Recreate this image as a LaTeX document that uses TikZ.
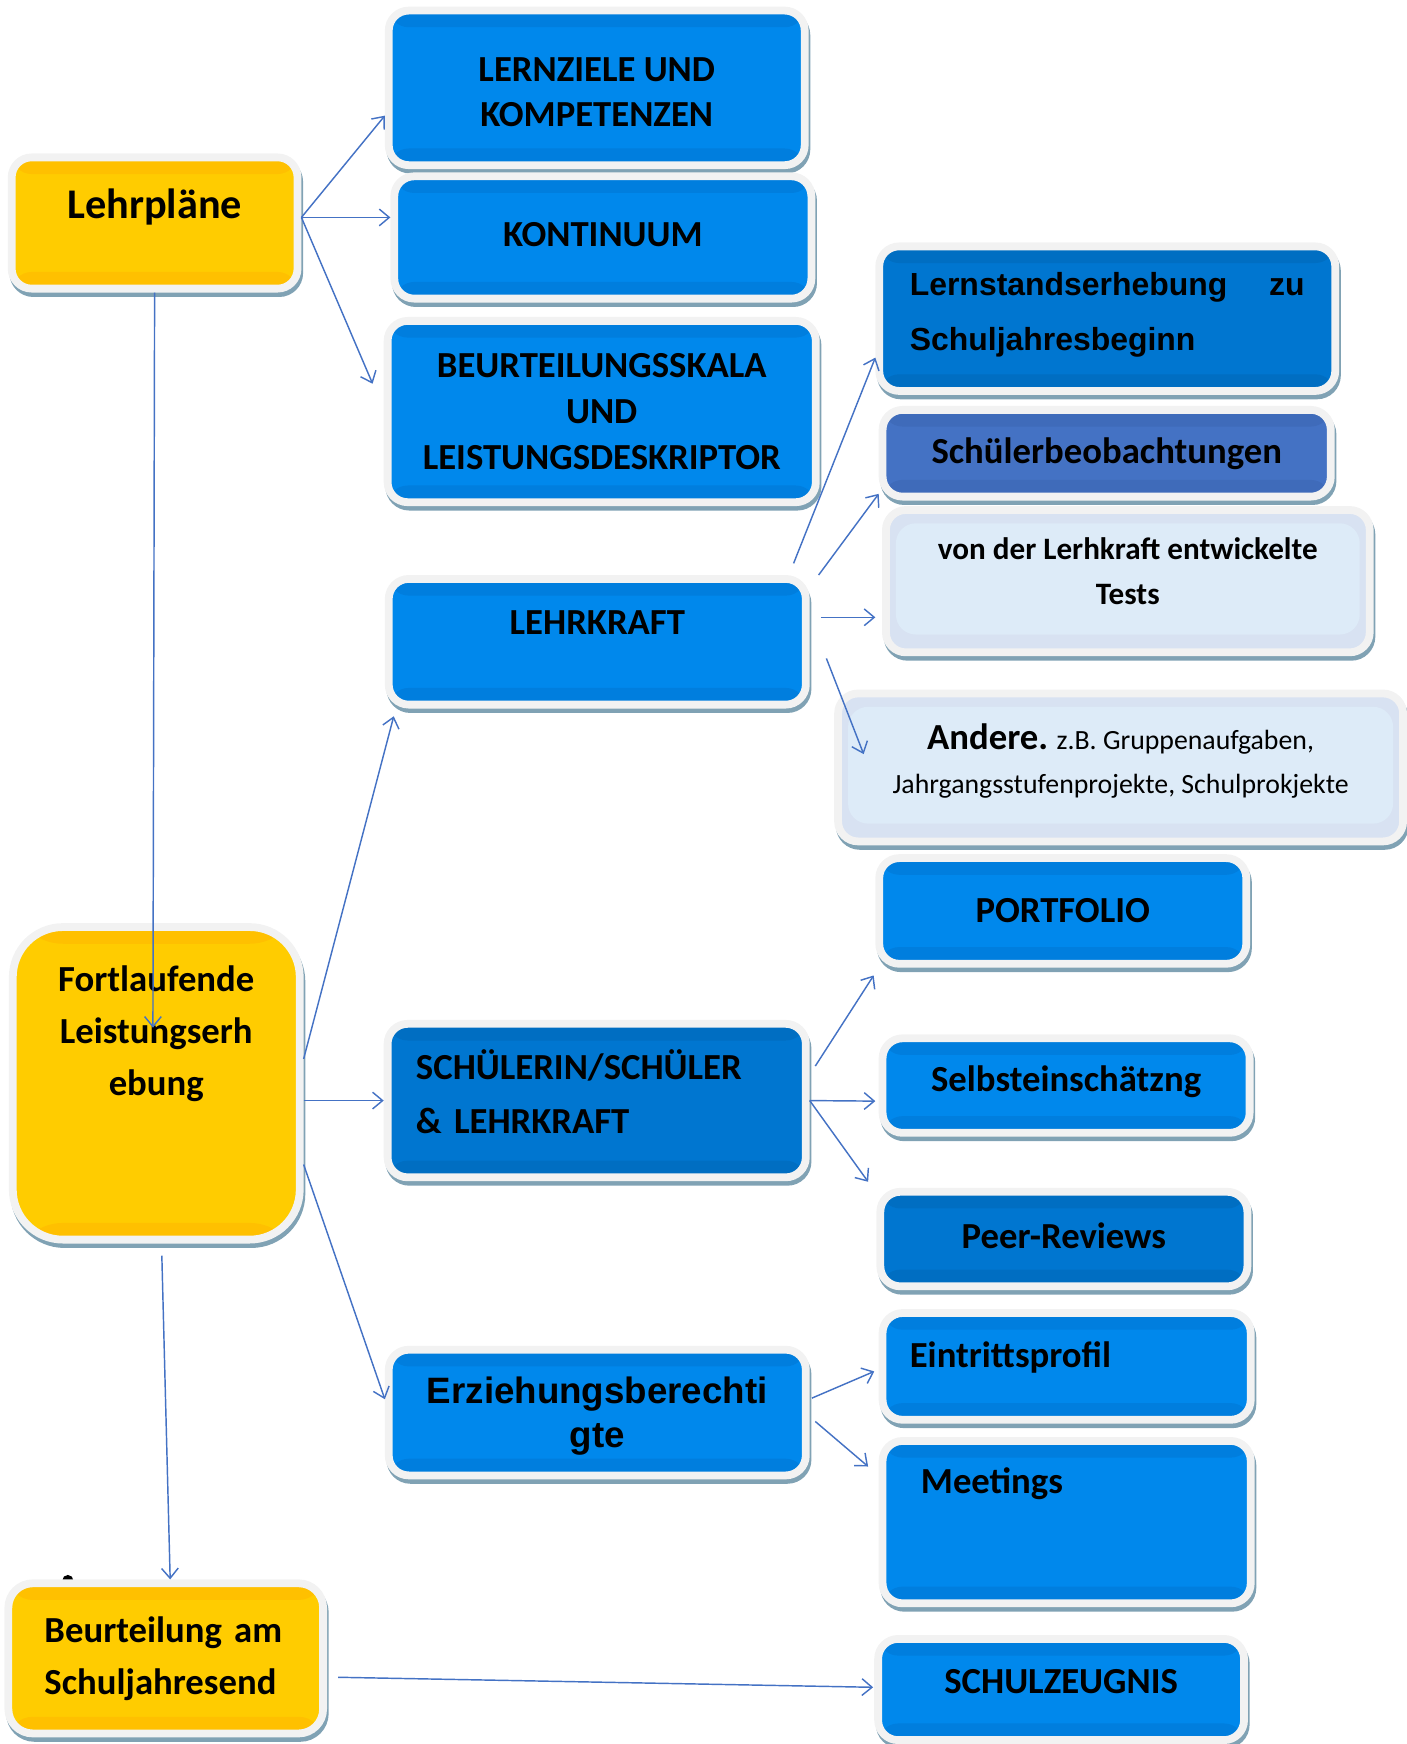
\documentclass[tikz,border=0pt]{standalone}
\usepackage{fontspec}
\setmainfont{Carlito}
\newfontfamily\arialfont{Liberation Sans}
\definecolor{rim}{RGB}{242, 242, 242}
\definecolor{shadowblue}{RGB}{128, 162, 180}
\definecolor{gold}{RGB}{255, 204, 0}
\definecolor{goldband}{RGB}{255, 192, 0}
\definecolor{main}{RGB}{0, 136, 236}
\definecolor{mainband}{RGB}{0, 126, 222}
\definecolor{deep}{RGB}{0, 118, 208}
\definecolor{deepband}{RGB}{0, 110, 194}
\definecolor{slate}{RGB}{68, 114, 196}
\definecolor{slateband}{RGB}{63, 107, 186}
\definecolor{pale}{RGB}{221, 235, 248}
\definecolor{paleband}{RGB}{216, 226, 242}
\definecolor{link}{RGB}{68, 114, 196}
\usetikzlibrary{arrows.meta}

\begin{document}
\begin{tikzpicture}[x=1pt, y=-1pt,
    box/.style={draw=rim, line width=7pt, rounded corners=18pt, inner sep=0pt, align=center,
      font=\bfseries\fontsize{33}{40}\selectfont,
      preaction={fill=shadowblue, draw=shadowblue, line width=7pt, transform canvas={xshift=1.5pt, yshift=-4pt}}},
    bands/.style 2 args={fill=#1, path picture={
      \fill[#2] (path picture bounding box.north west) rectangle ([yshift=-15pt]path picture bounding box.north east);
      \fill[#2] (path picture bounding box.south west) rectangle ([yshift=15pt]path picture bounding box.south east);}},
    goldbox/.style={box, bands={gold}{goldband}},
    mainbox/.style={box, bands={main}{mainband}},
    deepbox/.style={box, bands={deep}{deepband}},
    slatebox/.style={box, bands={slate}{slateband}},
    palebox/.style={box, fill=paleband, path picture={
      \fill[pale] ([shift={(9pt,-12pt)}]path picture bounding box.north west) rectangle ([shift={(-9pt,16pt)}]path picture bounding box.south east);}},
    arr/.style={draw=link, line width=1.3pt, -{Straight Barb[length=9pt, width=15pt]}}]
    \useasboundingbox (0,0) rectangle (1265,1568);

    \node[goldbox, minimum width=257pt, minimum height=118pt, font=\bfseries\fontsize{38}{46}\selectfont, text depth=35pt] (lehrpl) at (139,200.5) {Lehrpläne};
    \node[mainbox, minimum width=374pt, minimum height=139pt, text height=69pt, text depth=0pt] (lernz) at (536.5,79) {LERNZIELE UND\\KOMPETENZEN};
    \node[mainbox, minimum width=375pt, minimum height=110pt, text depth=6pt] (kontin) at (542,213.5) {KONTINUUM};
    \node[mainbox, minimum width=385pt, minimum height=163pt, font=\bfseries\fontsize{33}{41}\selectfont] (beurt) at (541,370) {BEURTEILUNGSSKALA\\UND\\LEISTUNGSDESKRIPTOR};
    \node[deepbox, text width=355pt, inner xsep=27.5pt, minimum height=130pt, align=left, font=\arialfont\bfseries\fontsize{28.7}{50}\selectfont, text depth=63pt] (lernst) at (995.5,286.5) {Lernstandserhebung\hfill zu\\Schuljahresbeginn};
    \node[slatebox, minimum width=403pt, minimum height=78pt] (schbeo) at (995,407.5) {Schülerbeobachtungen};
    \node[palebox, minimum width=435pt, minimum height=128pt, font=\bfseries\fontsize{28}{41}\selectfont, text depth=18pt] (tests) at (1014,522.5) {von der Lerhkraft entwickelte\\Tests};
    \node[mainbox, minimum width=375pt, minimum height=113pt, text depth=34pt] (lehrk) at (537,577) {LEHRKRAFT};
    \node[palebox, minimum width=508pt, minimum height=133pt, font=\fontsize{25}{39}\selectfont, text depth=16pt] (andere) at (1007.5,690) {{\bfseries\fontsize{33}{39}\selectfont Andere.} z.B. Gruppenaufgaben,\\Jahrgangsstufenprojekte, Schulprokjekte};
    \node[mainbox, minimum width=330pt, minimum height=95pt] (portf) at (955.5,819) {PORTFOLIO};
    \node[goldbox, rounded corners=45pt, minimum width=258pt, minimum height=281pt, font=\bfseries\fontsize{33}{47}\selectfont, text depth=95pt] (fortl) at (140.5,974) {Fortlaufende\\Leistungserh\\ebung};
    \node[deepbox, text width=325pt, inner xsep=25.5pt, minimum height=138pt, align=left, font=\bfseries\fontsize{33}{48}\selectfont, text depth=64pt] (schuel) at (536.5,989.5) {SCHÜLERIN/SCHÜLER\\\& LEHRKRAFT};
    \node[mainbox, minimum width=330pt, minimum height=85pt, text depth=13pt] (selbst) at (958.5,976) {Selbsteinschätzng};
    \node[deepbox, minimum width=330pt, minimum height=85pt, text depth=6pt] (peer) at (956.5,1114) {Peer-Reviews};
    \node[mainbox, minimum width=375pt, minimum height=113pt, font=\arialfont\bfseries\fontsize{33}{40}\selectfont, text depth=1pt] (erzieh) at (537,1270) {Erziehungsberechti\\gte};
    \node[mainbox, text width=282pt, inner xsep=24.5pt, minimum height=96pt, align=left, text depth=22pt] (eintr) at (959,1228.5) {Eintrittsprofil};
    \node[mainbox, text width=262pt, inner xsep=34.5pt, minimum height=146pt, align=left, text depth=74pt] (meet) at (959,1368.5) {Meetings};
    \fill (61,1421) circle (5pt);
    \node[goldbox, rounded corners=22pt, text width=218pt, inner xsep=32.5pt, minimum height=135pt, align=left, font=\bfseries\fontsize{33}{47}\selectfont] (beurtsj) at (149,1491) {Beurteilung am\\Schuljahresend};
    \node[mainbox, minimum width=329pt, minimum height=91pt, text depth=14pt] (zeugnis) at (954,1519) {SCHULZEUGNIS};

    \draw[arr] ([yshift=5pt]lehrpl.east) -- ([yshift=-25pt]lernz.west);
    \draw[arr] ([yshift=5pt]lehrpl.east) -- ([yshift=18pt]kontin.west);
    \draw[arr] ([yshift=5pt]lehrpl.east) -- ([xshift=-10pt, yshift=25pt]beurt.west);
    \draw[arr] (lehrpl.south) -- ([xshift=-3pt, yshift=-94pt]fortl.north);
    \draw[arr] ([yshift=22pt]fortl.east) -- ([xshift=8pt, yshift=-7pt]lehrk.south west);
    \draw[arr] (fortl.east |- schuel.west) -- (schuel.west);
    \draw[arr] ([yshift=-73pt]fortl.east) -- ([yshift=12pt]erzieh.west);
    \draw[arr] ([xshift=5pt, yshift=-11pt]fortl.south) -- ([xshift=4pt]beurtsj.north);
    \draw[arr] ([xshift=-14.5pt, yshift=10.5pt]lehrk.north east) -- ([yshift=-35pt]lernst.west);
    \draw[arr] ([xshift=8pt]lehrk.north east) -- ([yshift=6pt]schbeo.south west);
    \draw[arr] ([xshift=10pt, yshift=22pt]lehrk.east) -- ([xshift=-6pt, yshift=-32.5pt]tests.west);
    \draw[arr] ([xshift=15pt, yshift=-15pt]lehrk.east) -- ([xshift=26.5pt, yshift=12pt]andere.west);
    \draw[arr] ([xshift=5pt, yshift=31pt]schuel.east) -- ([xshift=-1.5pt, yshift=-7pt]portf.south west);
    \draw[arr] (schuel.east) -- ([xshift=-3pt, yshift=-14pt]selbst.west);
    \draw[arr] (schuel.east) -- ([xshift=-7.5pt, yshift=5.5pt]peer.north west);
    \draw[arr] ([xshift=2pt, yshift=13pt]erzieh.east) -- ([xshift=-4pt, yshift=-4.5pt]eintr.west);
    \draw[arr] ([xshift=5pt, yshift=-8pt]erzieh.east) -- ([xshift=-9.5pt, yshift=-26.5pt]meet.north west);
    \draw[arr] ([xshift=10pt, yshift=-17pt]beurtsj.east) -- ([xshift=-1pt, yshift=2pt]zeugnis.west);
\end{tikzpicture}
\end{document}
